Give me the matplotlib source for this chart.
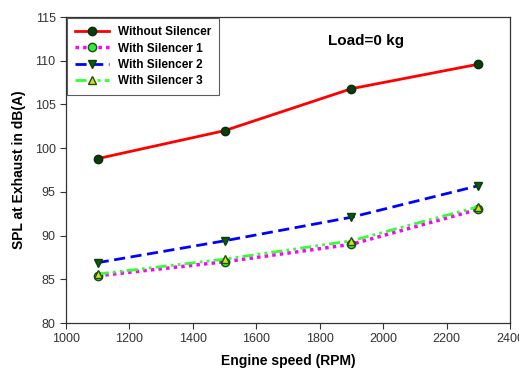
import matplotlib
matplotlib.use("Agg")
import matplotlib.pyplot as plt

plt.rcParams['font.family'] = ['Liberation Sans', 'DejaVu Sans']

rpm = [1100, 1500, 1900, 2300]
without_silencer = [98.8, 102.0, 106.8, 109.6]
silencer_1 = [85.4, 87.0, 89.0, 93.0]
silencer_2 = [86.9, 89.4, 92.1, 95.7]
silencer_3 = [85.6, 87.3, 89.4, 93.3]

x_ticks = [1000, 1200, 1400, 1600, 1800, 2000, 2200, 2400]
y_ticks = [80, 85, 90, 95, 100, 105, 110, 115]

fig = plt.figure(figsize=(5.19, 3.77), dpi=100)
ax = fig.add_axes([66 / 519, 1 - 323 / 377, 444 / 519, 306 / 377])

ax.plot(rpm, without_silencer, color="red", lw=2, marker="o", ms=6,
        mfc="#0b3d0b", mec="#0b2a0b", label="Without Silencer")
ax.plot(rpm, silencer_1, color="#ff00ff", lw=2.5, ls=(0, (1, 1.2)), marker="o", ms=6,
        mfc="#33ee33", mec="#1a4d1a", label="With Silencer 1")
ax.plot(rpm, silencer_2, color="#0000ff", lw=2, ls=(0, (4, 2)), marker="v", ms=6,
        mfc="#0b5a0b", mec="#0b3d0b", label="With Silencer 2")
ax.plot(rpm, silencer_3, color="#33ff33", lw=2, ls=(0, (4, 1.5, 1, 1.5, 1, 1.5)), marker="^", ms=6,
        mfc="#e0e000", mec="#1a4d1a", label="With Silencer 3")

ax.set_xlim(1000, 2400)
ax.set_ylim(80, 115)
ax.set_xticks(x_ticks)
ax.set_yticks(y_ticks)
ax.tick_params(direction="out", length=4, width=0.8, labelsize=9, colors="#333333")
for sp in ax.spines.values():
    sp.set_linewidth(0.9)
    sp.set_color("#333333")

ax.set_xlabel("Engine speed (RPM)", fontsize=10, fontweight="bold", labelpad=6)
ax.set_ylabel("SPL at Exhaust in dB(A)", fontsize=10, fontweight="bold", labelpad=6)

ax.text(0.59, 0.92, "Load=0 kg", transform=ax.transAxes, fontsize=11,
        fontweight="bold", ha="left", va="center")

leg = ax.legend(loc="upper left", bbox_to_anchor=(0.0, 1.0), fontsize=8.5,
                prop={"weight": "bold", "size": 8.5}, frameon=True, fancybox=False,
                borderpad=0.7, handlelength=2.8, labelspacing=0.35, borderaxespad=0.1)
leg.get_frame().set_edgecolor("#333333")
leg.get_frame().set_linewidth(0.8)

fig.savefig("out.png", dpi=100)
